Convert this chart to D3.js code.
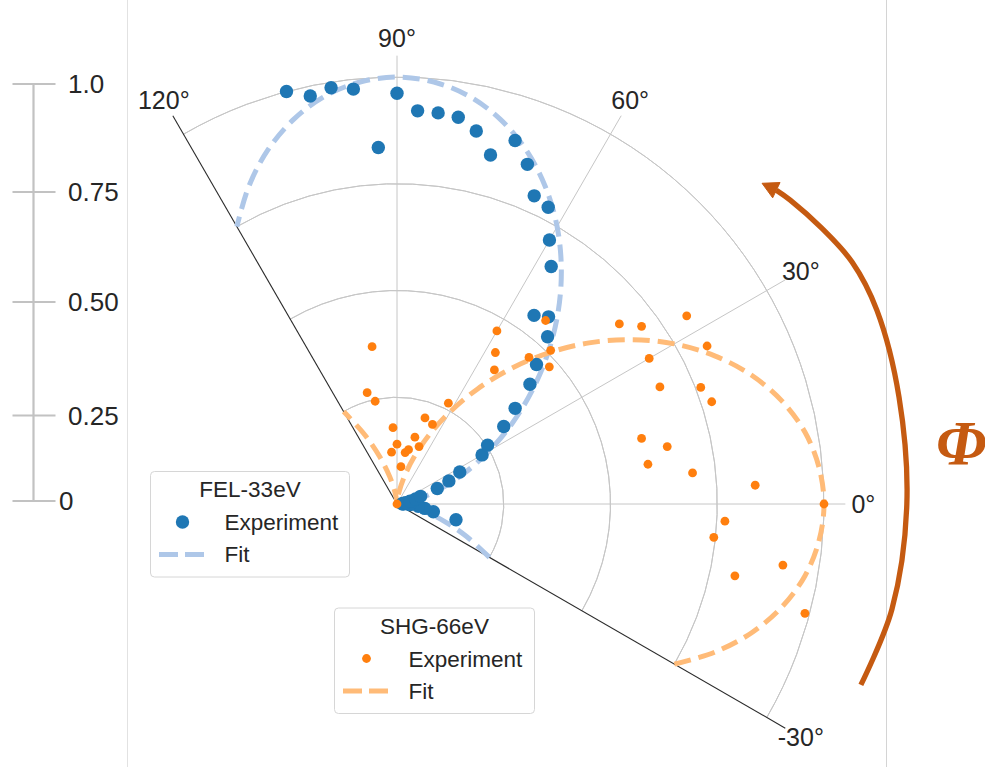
<!DOCTYPE html>
<html>
<head>
<meta charset="utf-8">
<script src="https://cdn.jsdelivr.net/npm/d3@7"></script>
<style>
  body { margin: 0; background: #fff; }
  svg { display: block; }
  text { font-family: "Liberation Sans", Arial, sans-serif; fill: #262626; }
</style>
</head>
<body>
<svg id="chart" width="985" height="767"></svg>
<script>
// ---------------- data ----------------
const expAngles = [-15,-12,-9,-6,-3,0,3,6,9,12,15,18,21,24,27,30,33,36,39,42,45,48,51,54,57,60,63,66,69,72,75,78,81,84,87,90,93,96,99,102,105];
const felExp = [0.143,0.087,0.066,0.050,0.030,0.015,0.012,0.015,0.020,0.031,0.045,0.058,0.101,0.133,0.165,0.230,0.253,0.309,0.356,0.419,0.462,0.527,0.564,0.546,0.663,0.714,0.780,0.790,0.852,0.895,0.846,0.893,0.917,0.921,0.922,0.962,0.836,0.977,0.987,0.977,1.000];
const shgExp = [0.989,0.809,0.915,0.746,0.769,1.000,0.840,0.696,0.595,0.647,0.593,0.775,0.762,0.674,0.815,0.682,0.809,0.708,0.670,0.480,0.509,0.462,0.553,0.388,0.423,0.468,0.265,0.204,0.144,0.212,0.162,0.130,0.122,0.088,0.000,0.140,0.179,0.122,0.373,0.246,0.270];

const fitAngles = [-30,-25,-20,-15,-10,-5,0,5,10,15,20,25,30,35,40,45,50,55,60,65,70,75,80,85,90,95,100,105,110,115,120];
const felFit = [0.25,0.179,0.117,0.067,0.030,0.008,0.0,0.008,0.030,0.067,0.117,0.179,0.25,0.329,0.413,0.50,0.587,0.671,0.75,0.821,0.883,0.933,0.970,0.992,1.0,0.992,0.970,0.933,0.883,0.821,0.75];
const shgFit = [0.75,0.821,0.883,0.933,0.970,0.992,1.0,0.992,0.970,0.933,0.883,0.821,0.75,0.671,0.587,0.50,0.413,0.329,0.25,0.179,0.117,0.067,0.030,0.008,0.0,0.008,0.030,0.067,0.117,0.179,0.25];

const thetaTicks = [-30, 0, 30, 60, 90, 120];
const thetaLabels = ["-30°", "0°", "30°", "60°", "90°", "120°"];
const radialTicks = [0.25, 0.5, 0.75, 1.0];
const scaleTicks = [0, 0.25, 0.5, 0.75, 1.0];
const scaleLabels = ["0", "0.25", "0.50", "0.75", "1.0"];

// ---------------- layout ----------------
const W = 985, H = 767;
const cx = 397, cy = 504;
const thetaMin = -30, thetaMax = 120, rMax = 1.05;
const svg = d3.select("#chart");
svg.append("rect").attr("width", W).attr("height", H).attr("fill", "#fff");

const rScale = d3.scaleLinear().domain([0, 1]).range([0, 427]);
// d3 radial angle: 0 = up, clockwise. theta: 0 = right, counter-clockwise.
const aScale = d3.scaleLinear().domain([0, 90]).range([Math.PI / 2, 0]);
function xy(th, rv) {
  const ang = aScale(th), rr = rScale(rv);
  return [cx + rr * Math.sin(ang), cy - rr * Math.cos(ang)];
}

// panel borders
svg.append("line").attr("x1", 127.5).attr("x2", 127.5).attr("y1", 0).attr("y2", H)
  .attr("stroke", "#e2e2e2").attr("stroke-width", 1);
svg.append("line").attr("x1", 886.5).attr("x2", 886.5).attr("y1", 0).attr("y2", H)
  .attr("stroke", "#d4d4d4").attr("stroke-width", 1);

const g = svg.append("g").attr("transform", `translate(${cx},${cy})`);

// radial grid arcs
const arcGen = d3.arc();
radialTicks.forEach(rv => {
  g.append("path")
    .attr("d", arcGen({innerRadius: rScale(rv), outerRadius: rScale(rv),
                       startAngle: aScale(thetaMax), endAngle: aScale(thetaMin)}))
    .attr("fill", "none").attr("stroke", "#c6c6c6").attr("stroke-width", 1);
});

// angular grid spokes and edges
thetaTicks.forEach(th => {
  const edge = (th === thetaMin || th === thetaMax);
  const p = xy(th, rMax);
  g.append("line").attr("x1", 0).attr("y1", 0)
    .attr("x2", p[0] - cx).attr("y2", p[1] - cy)
    .attr("stroke", edge ? "#2a2a2a" : "#c6c6c6")
    .attr("stroke-width", edge ? 1.1 : 1);
});

// angular labels
thetaTicks.forEach((th, i) => {
  const ang = aScale(th), rr = rScale(rMax) + 18;
  g.append("text")
    .attr("x", rr * Math.sin(ang)).attr("y", -rr * Math.cos(ang))
    .attr("text-anchor", "middle").attr("dominant-baseline", "central")
    .attr("font-size", 25).text(thetaLabels[i]);
});

// fits
const radialLine = d3.lineRadial()
  .angle(d => aScale(d[0])).radius(d => rScale(d[1]))
  .curve(d3.curveCatmullRom);
const felFitData = fitAngles.map((t, i) => [t, felFit[i]]);
const shgFitData = fitAngles.map((t, i) => [t, shgFit[i]]);
g.append("path").attr("d", radialLine(felFitData))
  .attr("fill", "none").attr("stroke", "#aec7e8").attr("stroke-width", 5)
  .attr("stroke-dasharray", "17,8");
g.append("path").attr("d", radialLine(shgFitData))
  .attr("fill", "none").attr("stroke", "#ffbb78").attr("stroke-width", 5)
  .attr("stroke-dasharray", "17,8");

// experiment points
const felData = expAngles.map((t, i) => [t, felExp[i]]);
const shgData = expAngles.map((t, i) => [t, shgExp[i]]);
svg.append("g").selectAll("circle").data(felData).join("circle")
  .attr("cx", d => xy(d[0], d[1])[0]).attr("cy", d => xy(d[0], d[1])[1])
  .attr("r", 6.7).attr("fill", "#1f77b4");
svg.append("g").selectAll("circle").data(shgData).join("circle")
  .attr("cx", d => xy(d[0], d[1])[0]).attr("cy", d => xy(d[0], d[1])[1])
  .attr("r", 4.4).attr("fill", "#ff7f0e");

// ---------------- scale bar (left) ----------------
const yBar = d3.scaleLinear().domain(scaleTicks).range([501, 415.5, 302, 192, 84]);
const barX = 33.5;
svg.append("line").attr("x1", barX).attr("x2", barX)
  .attr("y1", yBar(0)).attr("y2", yBar(1))
  .attr("stroke", "#c2c2c2").attr("stroke-width", 2.2);
scaleTicks.forEach((v, i) => {
  svg.append("line").attr("x1", 12.5).attr("x2", 55.5)
    .attr("y1", yBar(v)).attr("y2", yBar(v))
    .attr("stroke", "#c2c2c2").attr("stroke-width", 2.2);
  svg.append("text").attr("x", v === 0 ? 59 : 68).attr("y", yBar(v))
    .attr("dominant-baseline", "central").attr("font-size", 26)
    .text(scaleLabels[i]);
});

// ---------------- legends ----------------
function legend(x, y, w, h, title, color, markerR, fitColor) {
  const lg = svg.append("g").attr("transform", `translate(${x},${y})`);
  lg.append("rect").attr("width", w).attr("height", h).attr("rx", 4)
    .attr("fill", "#fff").attr("fill-opacity", 0.85)
    .attr("stroke", "#d6d6d6").attr("stroke-width", 1);
  lg.append("text").attr("x", w / 2).attr("y", 25.5).attr("text-anchor", "middle")
    .attr("font-size", 22.5).text(title);
  lg.append("circle").attr("cx", 32).attr("cy", 50.5).attr("r", markerR).attr("fill", color);
  lg.append("text").attr("x", 74).attr("y", 58.5).attr("font-size", 22.5).text("Experiment");
  lg.append("line").attr("x1", 8.5).attr("x2", 55).attr("y1", 83).attr("y2", 83)
    .attr("stroke", fitColor).attr("stroke-width", 5).attr("stroke-dasharray", "19,7");
  lg.append("text").attr("x", 74).attr("y", 90.5).attr("font-size", 22.5).text("Fit");
}
legend(150.5, 471.5, 199, 105.5, "FEL-33eV", "#1f77b4", 6.7, "#aec7e8");
legend(334.5, 608, 200, 105.5, "SHG-66eV", "#ff7f0e", 4.4, "#ffbb78");

// ---------------- Φ arrow annotation ----------------
const arrowColor = "#c55a11";
const arrowPts = [[-21.3,1.166],[-12,1.185],[0,1.194],[12,1.202],[22,1.212],[28,1.207],[33,1.186],[37.7,1.164],[39.6,1.153]];
const arrowTip = [41.3, 1.138];
const arrowLine = d3.line().x(d => xy(d[0], d[1])[0]).y(d => xy(d[0], d[1])[1]).curve(d3.curveCatmullRom);
svg.append("path").attr("d", arrowLine(arrowPts))
  .attr("fill", "none").attr("stroke", arrowColor).attr("stroke-width", 5.3);
const B = xy(...arrowPts[arrowPts.length - 1]);
const T = xy(...arrowTip);
const dx = T[0] - B[0], dy = T[1] - B[1], L = Math.hypot(dx, dy);
const px = -dy / L * 8.5, py = dx / L * 8.5;
svg.append("path")
  .attr("d", `M${T[0]},${T[1]}L${B[0] + px},${B[1] + py}L${B[0] - px},${B[1] - py}Z`)
  .attr("fill", arrowColor).attr("stroke", arrowColor).attr("stroke-width", 1);
svg.append("text").attr("x", 936).attr("y", 465)
  .style("font-family", "'Liberation Serif', 'Times New Roman', serif")
  .style("fill", arrowColor)
  .attr("font-size", 64).attr("font-weight", "bold").attr("font-style", "italic")
  .text("Φ");
</script>
</body>
</html>
